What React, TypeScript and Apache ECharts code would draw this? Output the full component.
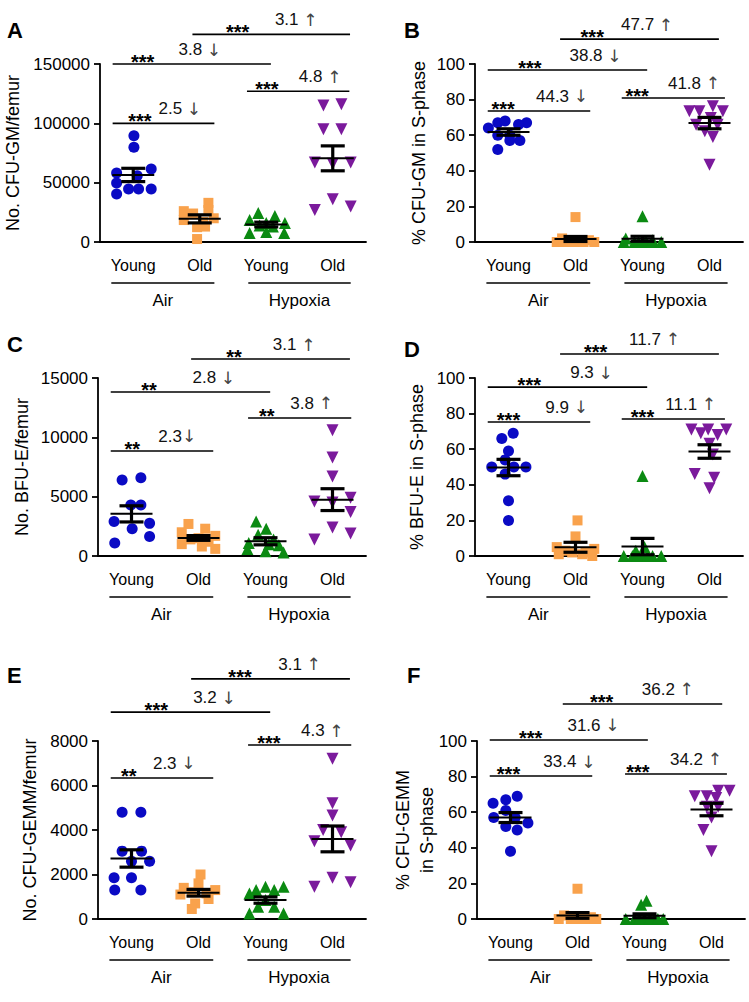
import { useEffect, useRef } from "react";
import * as echarts from "echarts";

const FONT = "'Liberation Sans', Arial, 'DejaVu Sans', sans-serif";

const categories = ["Young", "Old", "Young", "Old"];
const groupNames = ["Air", "Hypoxia"];
const groupColors = ["#0a0ac4", "#f9a24c", "#0b8a12", "#7b1a9c"];
const groupSymbols = ["circle", "rect", "triangle", "triangle"];
const groupSymbolRotate = [0, 0, 0, 180];
const groupSymbolSize = [11, 10, 12, 12];

// ---------- Panel A : No. CFU-GM/femur ----------
const aValues = [
  [89600, 79800, 61500, 58100, 55900, 49700, 44700, 44700, 44700, 40400],
  [33000, 27000, 26000, 24000, 20000, 18500, 17000, 13000, 12500, 2500],
  [24500, 22000, 18500, 16000, 16000, 14000, 13000, 8500, 7500, 7500],
  [115000, 116000, 95000, 95000, 67000, 66000, 67000, 27000, 36000, 30000],
];
const aJitter = [
  [0.01, 0.01, 0.27, -0.25, 0.06, -0.25, -0.07, 0.08, 0.27, -0.25],
  [0.13, 0.13, -0.24, -0.1, 0.21, -0.24, 0.05, 0.08, -0.04, -0.04],
  [-0.12, 0.13, -0.25, 0.28, 0.0, -0.1, 0.1, 0.0, -0.25, 0.27],
  [-0.14, 0.13, -0.14, 0.13, -0.27, 0.0, 0.27, -0.27, 0.0, 0.27],
];
const aMean = [56500, 19500, 14700, 70500];
const aSem = [5600, 3400, 2000, 10500];
const aStars = ["***", "***", "***", "***"];
const aFold = ["2.5 ↓", "3.8 ↓", "4.8 ↑", "3.1 ↑"];
const aSigY = [100000, 150000, 127000, 175000];

// ---------- Panel B : % CFU-GM in S-phase ----------
const bValues = [
  [67, 68, 67, 66, 64, 60, 60, 57, 57, 52],
  [14, 2, 1, 0.5, 0, 0, 0, 0, 0, 0],
  [14.5, 2, 1, 0.5, 0, 0, 0, 0, 0, 0],
  [73.4, 73.4, 76.2, 73.4, 69.7, 65.9, 65.9, 62.2, 59, 43.4],
];
const bJitter = [
  [-0.16, -0.05, 0.27, 0.15, -0.3, -0.16, 0.02, 0.02, 0.17, -0.16],
  [0, -0.2, 0.2, 0.1, -0.28, -0.15, 0, 0.12, 0.28, -0.05],
  [0, -0.25, 0.15, 0.05, -0.28, -0.12, 0.02, 0.14, 0.28, -0.06],
  [-0.3, -0.15, 0.05, 0.2, 0.02, -0.2, 0.12, -0.07, 0.05, 0],
];
const bMean = [61.8, 1.7, 1.8, 66.8];
const bSem = [1.8, 1.4, 1.4, 3.2];
const bStars = ["***", "***", "***", "***"];
const bFold = ["44.3 ↓", "38.8 ↓", "41.8 ↑", "47.7 ↑"];
const bSigY = [73.6, 96.6, 80.9, 114];

// ---------- Panel C : No. BFU-E/femur ----------
const cValues = [
  [6400, 6600, 4300, 4300, 2900, 2750, 2300, 1650, 1100],
  [2700, 2300, 2000, 1700, 1500, 1400, 1200, 1000, 800, 600],
  [2900, 2300, 1800, 1400, 1100, 1000, 900, 600, 400, 300],
  [10600, 8300, 6700, 4900, 4600, 4500, 3700, 2400, 1900, 1400],
];
const cJitter = [
  [-0.14, 0.14, -0.01, 0.14, -0.26, 0.27, 0.01, 0.27, -0.25],
  [-0.15, 0.1, -0.25, 0.25, 0.0, -0.12, 0.15, -0.25, 0.05, 0.25],
  [-0.14, 0.01, -0.11, 0.12, -0.25, 0.05, 0.2, -0.27, 0.0, 0.27],
  [0, 0, 0, 0.27, -0.27, 0.0, 0.27, 0.0, 0.27, -0.27],
];
const cMean = [3550, 1520, 1240, 4750];
const cSem = [680, 200, 300, 920];
const cStars = ["**", "**", "**", "**"];
const cFold = ["2.3↓", "2.8 ↓", "3.8 ↑", "3.1 ↑"];
const cSigY = [8850, 13820, 11630, 16600];

// ---------- Panel D : % BFU-E in S-phase ----------
const dValues = [
  [69, 66, 59, 54, 50, 50, 50, 46, 31, 20],
  [20, 11, 5, 4, 3, 2, 2, 1, 1, 0],
  [45, 5, 3, 0, 0, 0, 0, 0, 0, 0],
  [71, 69, 71, 68, 71, 63, 57, 46, 44, 38],
];
const dJitter = [
  [0.07, -0.1, 0, -0.05, -0.25, 0.08, 0.26, -0.05, 0.0, 0.0],
  [0.03, 0.0, -0.28, 0.28, -0.15, 0.15, -0.05, 0.1, -0.25, 0.25],
  [0, 0.03, -0.1, -0.28, -0.15, 0, 0.15, 0.28, -0.08, 0.08],
  [-0.27, -0.13, -0.02, 0.12, 0.25, 0.0, 0.05, -0.22, 0.07, 0.0],
];
const dMean = [49.7, 4.9, 5.3, 58.7];
const dSem = [4.6, 2.8, 4.6, 3.8];
const dStars = ["***", "***", "***", "***"];
const dFold = ["9.9 ↓", "9.3 ↓", "11.1 ↑", "11.7 ↑"];
const dSigY = [75.3, 94.9, 77, 113.5];

// ---------- Panel E : No. CFU-GEMM/femur ----------
const eValues = [
  [4800, 4800, 3050, 3050, 2600, 2600, 1850, 1850, 1300, 1300],
  [2000, 1600, 1400, 1300, 1200, 1150, 1100, 900, 700, 450],
  [1450, 1300, 1300, 1450, 1150, 850, 550, 550, 250, 250],
  [7200, 5200, 4650, 4000, 3900, 3500, 3300, 1850, 1650, 1450],
];
const eJitter = [
  [-0.14, 0.14, -0.14, 0.15, 0.0, 0.27, -0.26, 0.0, -0.25, 0.14],
  [0.03, 0.0, -0.22, 0.25, -0.1, 0.12, -0.27, 0.15, -0.05, -0.1],
  [0.0, -0.14, 0.13, 0.27, -0.24, 0.0, -0.11, 0.13, -0.24, 0.27],
  [0, 0, 0, -0.14, 0.13, -0.27, 0.27, 0, 0.27, -0.27],
];
const eMean = [2720, 1180, 850, 3600];
const eSem = [390, 150, 140, 580];
const eStars = ["**", "***", "***", "***"];
const eFold = ["2.3 ↓", "3.2 ↓", "4.3 ↑", "3.1 ↑"];
const eSigY = [6340, 9300, 7820, 10790];

// ---------- Panel F : % CFU-GEMM in S-phase ----------
const fValues = [
  [69, 67, 65, 61, 57, 57, 54, 52, 50, 38],
  [17, 2, 1, 0, 0, 0, 0, 0, 0, 0],
  [10.3, 8, 0, 0, 0, 0, 0, 0, 0, 0],
  [72, 72, 69, 69, 68, 63, 63, 57, 50, 38],
];
const fJitter = [
  [0.1, -0.07, -0.26, -0.07, -0.25, 0.07, 0.26, -0.07, 0.1, 0.0],
  [0, -0.2, 0.2, -0.28, -0.1, 0.05, 0.15, 0.28, -0.02, 0.1],
  [0.03, -0.05, -0.28, -0.15, 0, 0.15, 0.28, -0.08, 0.08, 0.2],
  [0.1, 0.27, -0.25, -0.07, 0.07, -0.07, 0.1, 0.0, -0.12, 0.0],
];
const fMean = [57, 2, 1.8, 61.5];
const fSem = [2.8, 1.6, 1.1, 3.5];
const fStars = ["***", "***", "***", "***"];
const fFold = ["33.4 ↓", "31.6 ↓", "34.2 ↑", "36.2 ↑"];
const fSigY = [80.3, 100.6, 81.5, 120.8];

// ---------- layout (positions only) ----------
type Panel = {
  letter: string;
  letterPos: [number, number];
  grid: { left: number; top: number };
  yMax: number;
  yInterval: number;
  yName: string;
  nameGap: number;
  values: number[][];
  jitter: number[][];
  mean: number[];
  sem: number[];
  stars: string[];
  fold: string[];
  sigY: number[];
  sigX: number[][]; // [x1, x2, starsX, labelX] in band units
};

const panels: Panel[] = [
  {
    letter: "A", letterPos: [7, 19], grid: { left: 98, top: 64 },
    yMax: 150000, yInterval: 50000, yName: "No. CFU-GM/femur", nameGap: 75,
    values: aValues, jitter: aJitter, mean: aMean, sem: aSem, stars: aStars, fold: aFold, sigY: aSigY,
    sigX: [[0.19, 1.72, 0.6, 0.88], [0.19, 2.57, 0.64, 1.18], [2.21, 3.75, 2.51, 2.99], [1.39, 3.76, 2.07, 2.63]],
  },
  {
    letter: "B", letterPos: [404, 19], grid: { left: 475, top: 64 },
    yMax: 100, yInterval: 20, yName: "% CFU-GM in S-phase", nameGap: 44,
    values: bValues, jitter: bJitter, mean: bMean, sem: bSem, stars: bStars, fold: bFold, sigY: bSigY,
    sigX: [[0.19, 1.72, 0.42, 0.91], [0.19, 2.57, 0.82, 1.41], [2.19, 3.73, 2.42, 2.88], [1.27, 3.64, 1.75, 2.18]],
  },
  {
    letter: "C", letterPos: [7, 333], grid: { left: 98, top: 378 },
    yMax: 15000, yInterval: 5000, yName: "No. BFU-E/femur", nameGap: 64,
    values: cValues, jitter: cJitter, mean: cMean, sem: cSem, stars: cStars, fold: cFold, sigY: cSigY,
    sigX: [[0.19, 1.72, 0.51, 0.9], [0.19, 2.57, 0.76, 1.41], [2.24, 3.78, 2.52, 2.87], [1.39, 3.76, 2.03, 2.61]],
  },
  {
    letter: "D", letterPos: [404, 338], grid: { left: 475, top: 378 },
    yMax: 100, yInterval: 20, yName: "% BFU-E in S-phase", nameGap: 46,
    values: dValues, jitter: dJitter, mean: dMean, sem: dSem, stars: dStars, fold: dFold, sigY: dSigY,
    sigX: [[0.19, 1.72, 0.5, 1.05], [0.19, 2.57, 0.81, 1.42], [2.19, 3.73, 2.5, 2.84], [1.27, 3.64, 1.8, 2.3]],
  },
  {
    letter: "E", letterPos: [7, 664], grid: { left: 98, top: 741 },
    yMax: 8000, yInterval: 2000, yName: "No. CFU-GEMM/femur", nameGap: 56,
    values: eValues, jitter: eJitter, mean: eMean, sem: eSem, stars: eStars, fold: eFold, sigY: eSigY,
    sigX: [[0.19, 1.72, 0.46, 0.82], [0.19, 2.57, 0.87, 1.42], [2.24, 3.78, 2.55, 3.03], [1.39, 3.76, 2.12, 2.69]],
  },
  {
    letter: "F", letterPos: [407, 664], grid: { left: 477, top: 741 },
    yMax: 100, yInterval: 20, yName: "% CFU-GEMM\nin S-phase", nameGap: 38,
    values: fValues, jitter: fJitter, mean: fMean, sem: fSem, stars: fStars, fold: fFold, sigY: fSigY,
    sigX: [[0.19, 1.72, 0.47, 0.99], [0.19, 2.55, 0.8, 1.35], [2.21, 3.73, 2.4, 2.88], [1.28, 3.66, 1.86, 2.46]],
  },
];

const groupSpans = [[0.17, 1.72], [2.23, 3.77]];

// split "3.8 ↓" so that the arrow uses a font known to have it
function richFold(s: string) {
  const arrow = s.slice(-1);
  const num = s.slice(0, -1);
  return `${num}{ar|${arrow}}`;
}

function buildOption() {
  const grids: any[] = [];
  const xAxes: any[] = [];
  const yAxes: any[] = [];
  const series: any[] = [];
  const graphics: any[] = [];
  const axisLineStyle = { color: "#000", width: 1.8 };

  panels.forEach((p, pi) => {
    grids.push({ left: p.grid.left, top: p.grid.top, width: 268, height: 178 });
    xAxes.push({
      type: "category", gridIndex: pi, data: categories, boundaryGap: true, position: "bottom",
      axisLine: { lineStyle: axisLineStyle },
      axisTick: { alignWithLabel: true, length: 8, lineStyle: axisLineStyle },
      axisLabel: { color: "#000", fontSize: 16, margin: 15, fontFamily: FONT },
      splitLine: { show: false },
    });
    const valIdx = xAxes.length;
    xAxes.push({ type: "value", gridIndex: pi, min: 0, max: 4, show: false, splitLine: { show: false } });
    yAxes.push({
      type: "value", gridIndex: pi, min: 0, max: p.yMax, interval: p.yInterval,
      axisLine: { show: true, lineStyle: axisLineStyle },
      axisTick: { show: true, length: 6, lineStyle: axisLineStyle },
      axisLabel: { color: "#000", fontSize: 17, margin: 10, fontFamily: FONT, formatter: (v: number) => String(v) },
      splitLine: { show: false },
      name: p.yName, nameLocation: "middle", nameGap: p.nameGap, nameRotate: 90,
      nameMoveOverlap: false,
      nameTextStyle: { color: "#000", fontSize: 18, fontFamily: FONT, lineHeight: 24 },
    });

    // scatter points
    p.values.forEach((vals, gi) => {
      series.push({
        type: "scatter", xAxisIndex: valIdx, yAxisIndex: pi,
        symbol: groupSymbols[gi], symbolSize: groupSymbolSize[gi], symbolRotate: groupSymbolRotate[gi],
        itemStyle: { color: groupColors[gi], opacity: 1 },
        data: vals.map((v, k) => [gi + 0.5 + p.jitter[gi][k], v]),
        clip: false, z: 2, silent: true,
      });
    });

    // mean ± SEM
    series.push({
      type: "custom", xAxisIndex: valIdx, yAxisIndex: pi, z: 5, silent: true, clip: false,
      data: p.mean.map((m, gi) => [gi + 0.5, m, p.sem[gi]]),
      renderItem: (params: any, api: any) => {
        const x = api.value(0), m = api.value(1), s = api.value(2);
        const c = api.coord([x, m]);
        const t = api.coord([x, m + s]);
        const b = api.coord([x, Math.max(m - s, 0)]);
        const st = { stroke: "#000", lineWidth: 3.2 };
        return {
          type: "group",
          children: [
            { type: "line", shape: { x1: c[0] - 21, y1: c[1], x2: c[0] + 21, y2: c[1] }, style: { stroke: "#000", lineWidth: 2 } },
            { type: "line", shape: { x1: c[0], y1: t[1], x2: c[0], y2: b[1] }, style: st },
            { type: "line", shape: { x1: c[0] - 12, y1: t[1], x2: c[0] + 12, y2: t[1] }, style: st },
            { type: "line", shape: { x1: c[0] - 12, y1: b[1], x2: c[0] + 12, y2: b[1] }, style: st },
          ],
        };
      },
    });

    // significance brackets
    series.push({
      type: "custom", xAxisIndex: valIdx, yAxisIndex: pi, z: 6, silent: true, clip: false,
      data: p.sigY.map((y, k) => [p.sigX[k][0], p.sigX[k][1], y, p.sigX[k][2], p.sigX[k][3]]),
      renderItem: (params: any, api: any) => {
        const k = params.dataIndex;
        const y = api.value(2);
        const p1 = api.coord([api.value(0), y]);
        const p2 = api.coord([api.value(1), y]);
        const ps = api.coord([api.value(3), y]);
        const pl = api.coord([api.value(4), y]);
        return {
          type: "group",
          children: [
            { type: "line", shape: { x1: p1[0], y1: p1[1], x2: p2[0], y2: p1[1] }, style: { stroke: "#000", lineWidth: 1.6 } },
            {
              type: "text", x: ps[0], y: p1[1] + 8,
              style: { text: p.stars[k], align: "center", verticalAlign: "bottom", fontSize: 20, fontWeight: "bold", fontFamily: FONT, fill: "#000" },
            },
            {
              type: "text", x: pl[0], y: p1[1] - 6,
              style: {
                text: richFold(p.fold[k]), align: "left", verticalAlign: "bottom",
                fontSize: 17, fontFamily: FONT, fill: "#111",
                rich: { ar: { fontSize: 17, fontFamily: "'DejaVu Sans', sans-serif", fill: "#444" } },
              },
            },
          ],
        };
      },
    });

    // group labels under axis
    series.push({
      type: "custom", xAxisIndex: valIdx, yAxisIndex: pi, z: 6, silent: true, clip: false,
      data: groupSpans.map((s) => [s[0], s[1]]),
      renderItem: (params: any, api: any) => {
        const a = api.coord([api.value(0), 0]);
        const b = api.coord([api.value(1), 0]);
        return {
          type: "group",
          children: [
            { type: "line", shape: { x1: a[0], y1: a[1] + 41, x2: b[0], y2: a[1] + 41 }, style: { stroke: "#000", lineWidth: 1.6 } },
            {
              type: "text", x: (a[0] + b[0]) / 2, y: a[1] + 58,
              style: { text: groupNames[params.dataIndex], align: "center", verticalAlign: "middle", fontSize: 17, fontFamily: FONT, fill: "#000" },
            },
          ],
        };
      },
    });

    graphics.push({
      type: "text", left: p.letterPos[0], top: p.letterPos[1],
      style: { text: p.letter, fontSize: 22, fontWeight: "bold", fontFamily: FONT, fill: "#000" },
    });
  });

  return {
    animation: false,
    backgroundColor: "#fff",
    textStyle: { fontFamily: FONT },
    grid: grids,
    xAxis: xAxes,
    yAxis: yAxes,
    series,
    graphic: graphics,
  };
}

export default function App() {
  const ref = useRef<HTMLDivElement>(null);
  useEffect(() => {
    if (!ref.current) return;
    const chart = echarts.init(ref.current, undefined, { renderer: "svg" });
    chart.setOption(buildOption() as any);
    return () => chart.dispose();
  }, []);
  return (
    <div
      ref={ref}
      style={{ position: "absolute", left: 0, top: 0, width: 749, height: 1002, background: "#fff" }}
    />
  );
}
